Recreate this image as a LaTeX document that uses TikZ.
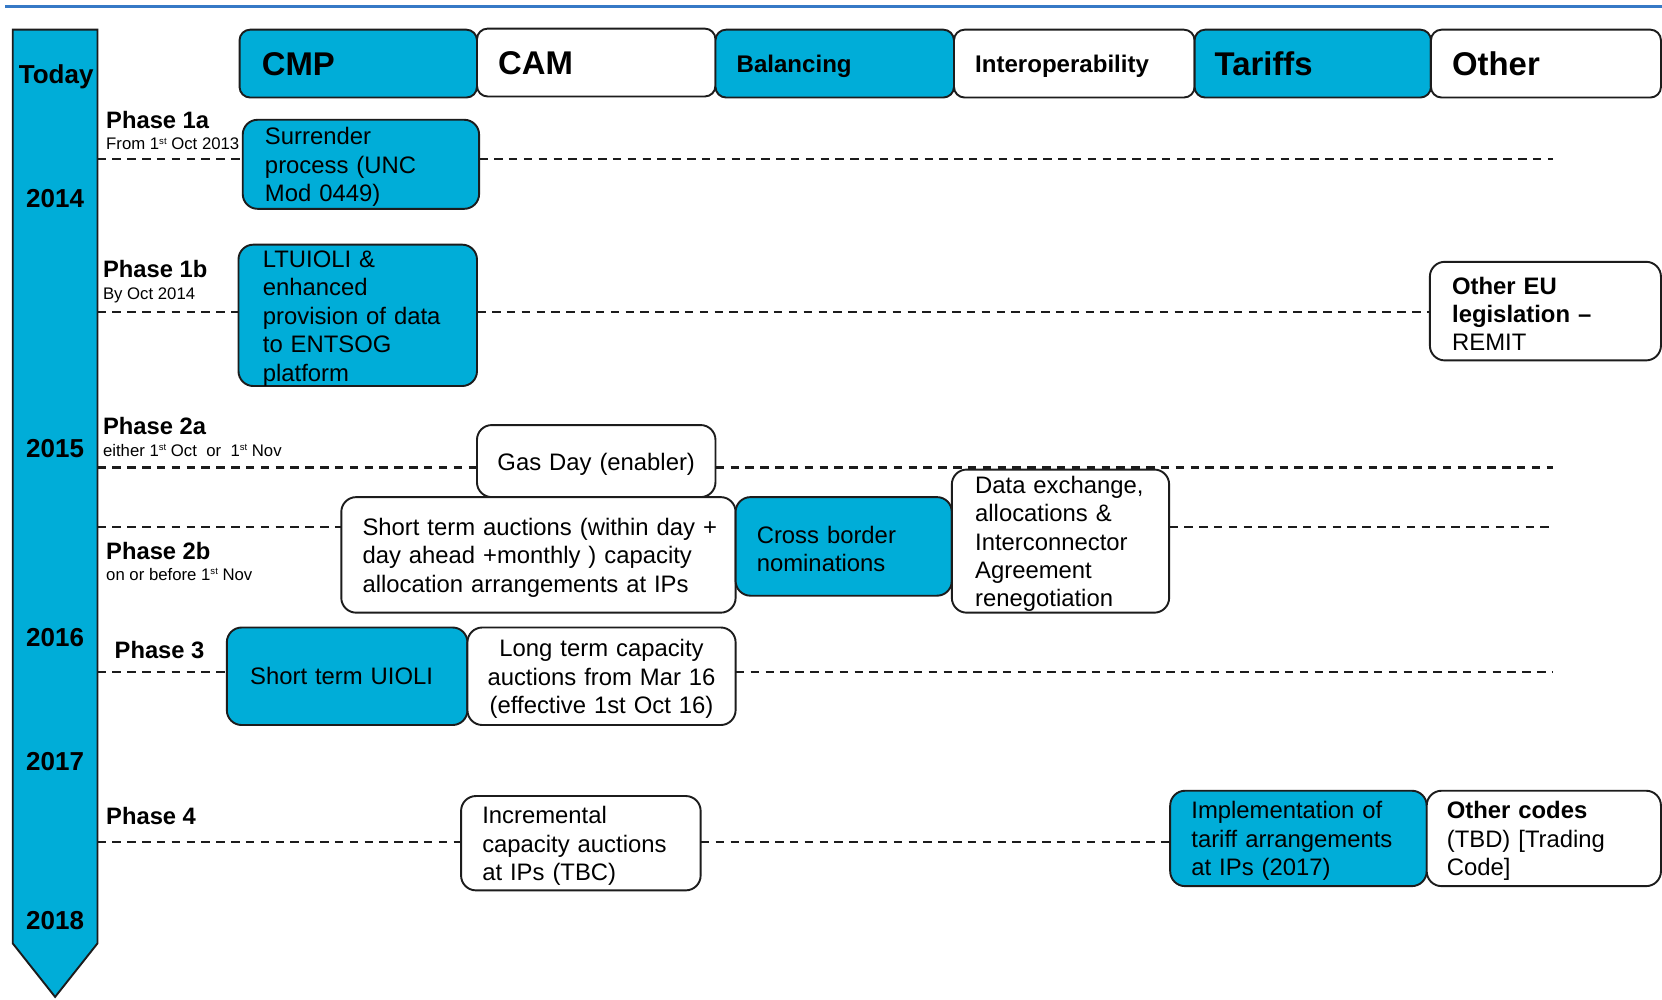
\documentclass[tikz,border=0pt]{standalone}
\usepackage{fontspec}
\setmainfont{Liberation Sans}
\definecolor{cblue}{RGB}{0,173,216}
\definecolor{topblue}{RGB}{54,121,198}
\definecolor{edge}{RGB}{28,28,28}
\newcommand{\rsbody}{\fontsize{22.5}{26.8}\selectfont}
\newcommand{\rssmall}{\fontsize{15.8}{19}\selectfont}
\newcommand{\rshbig}{\fontsize{31}{36}\selectfont\bfseries}
\newcommand{\rshsmall}{\fontsize{22.7}{27}\selectfont\bfseries}
\newcommand{\rsphase}{\fontsize{22.4}{27}\selectfont\bfseries}
\newcommand{\rsyear}{\fontsize{24.5}{29}\selectfont\bfseries}
\newcommand{\rsst}{\raisebox{5.5pt}{\fontsize{9}{9}\selectfont st}}
\begin{document}
\begin{tikzpicture}[x=1pt,y=-1pt,
  hdr/.style={draw=edge,line width=1.8pt,rounded corners=10pt,minimum height=64pt,inner xsep=0pt,inner ysep=0pt,align=left,text depth=0pt},
  hbig/.style={hdr,font=\rshbig,text height=22pt},
  hsmall/.style={hdr,font=\rshsmall,text height=16.3pt},
  cboxbase/.style={draw=edge,line width=1.8pt,rounded corners=14pt,inner xsep=0pt,inner ysep=0pt,align=left,font=\rsbody},
  cbox/.style={cboxbase,execute at begin node={\rule{0pt}{21.5pt}}},
  ccbox/.style={cbox,align=center},
  phasel/.style={anchor=base west,inner sep=0pt,font=\rsphase},
  datel/.style={anchor=base west,inner sep=0pt,font=\rssmall},
  yearl/.style={anchor=base,inner sep=0pt,font=\rsyear},
  dashline/.style={draw=edge,line width=2pt,dash pattern=on 8pt off 6pt},
]
\useasboundingbox (0,0) rectangle (1568,943.4);
\fill[white] (0,0) rectangle (1568,943.4);

% top rule
\draw[topblue,line width=3pt] (5,6) -- (1568,6);

% timeline arrow
\draw[draw=edge,line width=1.8pt,fill=cblue,line join=miter] (12,28) -- (92,28) -- (92,890) -- (52,940.5) -- (12,890) -- cycle;
\node[yearl] (today) at (53,79) {Today};
\node[yearl] (y14) at (52,196) {2014};
\node[yearl] (y15) at (52,432) {2015};
\node[yearl] (y16) at (52,610) {2016};
\node[yearl] (y17) at (52,727) {2017};
\node[yearl] (y18) at (52,877) {2018};

% headers
\node[hbig,fill=cblue,minimum width=224pt,text width=182pt] (hcmp) at (338,60) {CMP};
\node[hbig,fill=white,minimum width=225pt,text width=185pt] (hcam) at (562.5,59) {CAM};
\node[hsmall,fill=cblue,minimum width=225pt,text width=185pt] (hbal) at (787.5,60) {Balancing};
\node[hsmall,fill=white,minimum width=227pt,text width=187pt] (hint) at (1013.5,60) {Interoperability};
\node[hbig,fill=cblue,minimum width=223pt,text width=185pt] (htar) at (1238.5,60) {Tariffs};
\node[hbig,fill=white,minimum width=217pt,text width=177pt] (hoth) at (1458.5,60) {Other};

% phase labels
\node[phasel] (p1a) at (100,121) {Phase 1a};
\node[datel] (d1a) at (100,141.5) {From 1\rsst{} Oct 2013};
\node[phasel] (p1b) at (97,262) {Phase 1b};
\node[datel] (d1b) at (97,282.5) {By Oct 2014};
\node[phasel] (p2a) at (97,410) {Phase 2a};
\node[datel] (d2a) at (97,430.5) {either 1\rsst{} Oct\ \ or\ \ 1\rsst{} Nov};
\node[phasel] (p2b) at (100,528) {Phase 2b};
\node[datel] (d2b) at (100,547.5) {on or before 1\rsst{} Nov};
\node[phasel] (p3) at (108,621) {Phase 3};
\node[phasel] (p4) at (100,778) {Phase 4};

% line coordinates
\coordinate (s1a) at (92,150);  \coordinate (e1a) at (1465,150);
\coordinate (s1b) at (92,294);
\coordinate (s2a) at (92,441);  \coordinate (e2a) at (1465,441);
\coordinate (s2b) at (92,497);  \coordinate (e2b) at (1465,497);
\coordinate (s3)  at (92,634);  \coordinate (e3)  at (1465,634);
\coordinate (s4)  at (92,794);

% box geometry (invisible placeholders for anchors)
\path
 node[draw=none,inner sep=0pt,minimum width=223pt,minimum height=84pt] (surr) at (340.5,155) {}
 node[draw=none,inner sep=0pt,minimum width=225pt,minimum height=131pt] (ltu) at (337.5,297.5) {}
 node[draw=none,inner sep=0pt,minimum width=218pt,minimum height=93pt] (oeu) at (1458,293.5) {}
 node[draw=none,inner sep=0pt,minimum width=225pt,minimum height=68pt] (gas) at (562.5,435) {}
 node[draw=none,inner sep=0pt,minimum width=372pt,minimum height=109pt] (sta) at (508,523.5) {}
 node[draw=none,inner sep=0pt,minimum width=205pt,minimum height=135pt] (dex) at (1000.5,510.5) {}
 node[draw=none,inner sep=0pt,minimum width=227pt,minimum height=92pt] (stu) at (327.5,638) {}
 node[draw=none,inner sep=0pt,minimum width=253pt,minimum height=92pt] (ltc) at (567.5,638) {}
 node[draw=none,inner sep=0pt,minimum width=226pt,minimum height=89pt] (inc) at (548,795.5) {}
 node[draw=none,inner sep=0pt,minimum width=242pt,minimum height=90pt] (imp) at (1225,791) {};

% dashed lines
\draw[dashline] (s1a) -- (s1a -| surr.west);
\draw[dashline] (surr.east |- s1a) -- (e1a);
\draw[dashline] (s1b) -- (s1b -| ltu.west);
\draw[dashline] (ltu.east |- s1b) -- (s1b -| oeu.west);
\draw[dashline] (s2a) -- (s2a -| gas.west);
\draw[dashline] (gas.east |- s2a) -- (e2a);
\draw[dashline] (s2b) -- (s2b -| sta.west);
\draw[dashline] (dex.east |- s2b) -- (e2b);
\draw[dashline] (s3) -- (s3 -| stu.west);
\draw[dashline] (ltc.east |- s3) -- (e3);
\draw[dashline] (s4) -- (s4 -| inc.west);
\draw[dashline] (inc.east |- s4) -- (s4 -| imp.west);

% content boxes
\node[cbox,fill=cblue,minimum width=223pt,text width=181pt,minimum height=84pt] (surrT) at (surr) {Surrender\\process (UNC\\Mod 0449)};
\node[cbox,fill=cblue,minimum width=225pt,text width=179pt,minimum height=131pt] (ltuT) at (ltu) {LTUIOLI \&\\enhanced\\provision of data\\to ENTSOG\\platform};
\node[cbox,fill=white,minimum width=218pt,text width=176pt,minimum height=93pt] (oeuT) at (oeu) {\textbf{Other EU}\\\textbf{legislation –}\\REMIT};
\node[ccbox,fill=white,minimum width=225pt,text width=205pt,minimum height=68pt] (gasT) at (gas) {Gas Day (enabler)};
\node[cbox,fill=white,minimum width=372pt,text width=332pt,minimum height=109pt] (staT) at (sta) {\mbox{Short term auctions (within day +}\\\mbox{day ahead +monthly ) capacity}\\\mbox{allocation arrangements at IPs}};
\node[cbox,fill=cblue,minimum width=204pt,text width=164pt,minimum height=93pt] (cbn) at (796,515.5) {Cross border\\nominations};
\node[cbox,fill=white,minimum width=205pt,text width=161pt,minimum height=135pt] (dexT) at (dex) {\mbox{Data exchange,}\\allocations \&\\Interconnector\\Agreement\\renegotiation};
\node[cboxbase,fill=cblue,minimum width=227pt,text width=183pt,minimum height=92pt] (stuT) at (stu) {Short term UIOLI};
\node[ccbox,fill=white,minimum width=253pt,text width=233pt,minimum height=92pt] (ltcT) at (ltc) {Long term capacity\\auctions from Mar 16\\(effective 1st Oct 16)};
\node[cbox,fill=white,minimum width=226pt,text width=186pt,minimum height=89pt] (incT) at (inc) {Incremental\\capacity auctions\\at IPs (TBC)};
\node[cbox,fill=cblue,minimum width=242pt,text width=202pt,minimum height=90pt] (impT) at (imp) {Implementation of\\tariff arrangements\\at IPs (2017)};
\node[cbox,fill=white,minimum width=221pt,text width=183pt,minimum height=90pt] (ocd) at (1456.5,791) {\textbf{Other codes}\\(TBD) [Trading\\Code]};
\end{tikzpicture}
\end{document}
